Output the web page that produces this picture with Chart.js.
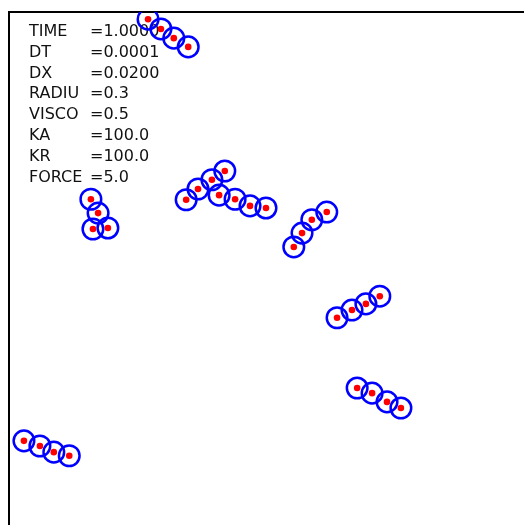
<!DOCTYPE html>
<html>
<head>
<meta charset="utf-8">
<script src="https://cdn.jsdelivr.net/npm/chart.js@4.4.1/dist/chart.umd.min.js"></script>
<style>
  html, body { margin: 0; padding: 0; background: #fff; }
  #wrap { width: 524px; height: 525px; }
</style>
</head>
<body>
<div id="wrap"><canvas id="c"></canvas></div>
<script>
// particle centres (simulation units, box 0..10)
const particleX = [
  2.70, 2.95, 3.20, 3.48,
  1.59, 1.73, 1.63, 1.92,
  3.44, 3.67, 3.94, 4.19, 4.08, 4.39, 4.68, 4.99,
  5.53, 5.69, 5.88, 6.17,
  6.37, 6.66, 6.93, 7.20,
  6.76, 7.05, 7.34, 7.61,
  0.29, 0.60, 0.87, 1.17
];
const particleY = [
  9.86, 9.67, 9.49, 9.32,
  6.35, 6.08, 5.77, 5.79,
  6.34, 6.55, 6.73, 6.90, 6.43, 6.35, 6.22, 6.18,
  5.42, 5.69, 5.95, 6.10,
  4.04, 4.19, 4.31, 4.46,
  2.67, 2.57, 2.40, 2.28,
  1.64, 1.54, 1.42, 1.35
];
const paramNames = ["TIME", "DT", "DX", "RADIU", "VISCO", "KA", "KR", "FORCE"];
const paramValues = ["1.0000", "0.0001", "0.0200", "0.3", "0.5", "100.0", "100.0", "5.0"];

const points = particleX.map((x, i) => ({ x: x, y: particleY[i] }));

// frame + parameter text
const decor = {
  id: "decor",
  beforeDatasetsDraw(chart) {
    const ctx = chart.ctx;
    const a = chart.chartArea;
    ctx.save();
    ctx.strokeStyle = "#000";
    ctx.lineWidth = 2;
    ctx.beginPath();
    ctx.moveTo(a.left, a.bottom);
    ctx.lineTo(a.left, a.top);
    ctx.lineTo(a.right, a.top);
    ctx.stroke();
    ctx.fillStyle = "#111";
    ctx.font = "16px 'DejaVu Sans'";
    ctx.textBaseline = "alphabetic";
    paramNames.forEach((name, i) => {
      const y = 36 + i * 20.8;
      ctx.fillText(name, 29, y);
      ctx.fillText("=" + paramValues[i], 90, y);
    });
    ctx.restore();
  }
};

new Chart(document.getElementById("c"), {
  type: "scatter",
  data: {
    datasets: [
      {
        data: points,
        pointRadius: 3.3,
        pointHoverRadius: 3.3,
        pointBackgroundColor: "#ff0000",
        pointBorderWidth: 0,
        clip: 0
      },
      {
        data: points,
        pointRadius: 10.3,
        pointHoverRadius: 10.3,
        pointBackgroundColor: "rgba(0,0,0,0)",
        pointBorderColor: "#0000ff",
        pointBorderWidth: 2.5,
        clip: 0
      }
    ]
  },
  options: {
    responsive: true,
    maintainAspectRatio: false,
    animation: false,
    layout: { autoPadding: false, padding: { left: 9, top: 12, right: 0, bottom: 0 } },
    plugins: { legend: { display: false }, tooltip: { enabled: false } },
    scales: {
      x: { display: false, min: 0, max: 10 },
      y: { display: false, min: 0, max: 10 }
    }
  },
  plugins: [decor]
});
</script>
</body>
</html>
